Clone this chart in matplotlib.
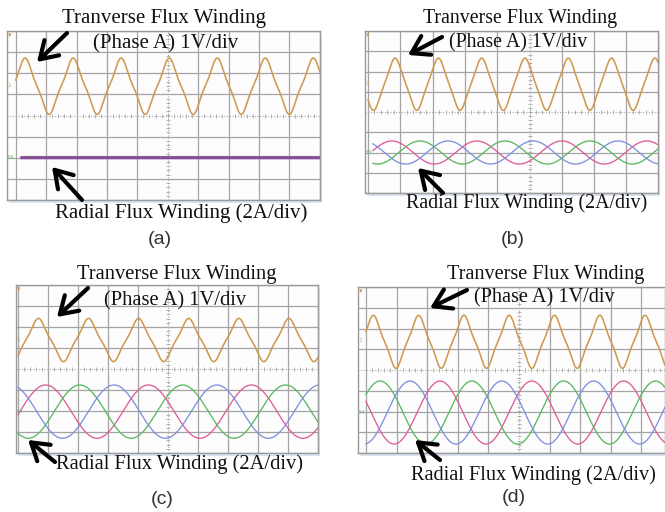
import numpy as np
import matplotlib
matplotlib.use("Agg")
import matplotlib.pyplot as plt
from matplotlib.patches import Rectangle

# ---------------- data (in divisions) -------------
panel_labels = ["(a)", "(b)", "(c)", "(d)"]
title_top = "Tranverse Flux Winding"
title_mid = "(Phase A) 1V/div"
title_bottom = "Radial Flux Winding (2A/div)"

# transverse-flux winding voltage (phase A)
volt_high = [2.72, 2.66, 2.41, 2.64]
volt_low = [0.05, 0.08, 0.35, 0.08]
volt_period = [1.58, 1.34, 1.67, 1.48]
volt_first_peak = [0.31, 0.84, 0.68, 0.24]
volt_harm3 = [0.11, 0.08, 0.11, 0.11]

# radial-flux winding three-phase currents
cur_center = [-2.0, -2.0, -2.03, -2.05]
cur_amp = [0.0, 0.57, 1.27, 1.52]
cur_period = [1.0, 2.63, 3.43, 3.00]
cur_peak_pink = [0.0, 0.74, 0.92, 2.42]
cur_peak_green = [0.0, 1.61, 2.06, 0.46]
cur_peak_blue = [0.0, 2.48, 3.20, 1.44]
cur_start = [0.2, 0.15, 0.0, 0.0]

# ---------------- layout (pixels) ----------------
W, H = 665, 512
frame_left = [7, 365, 16, 358]
grid_left = [15.7, 368, 18, 366]
div_px = [30.4, 32.3, 30.0, 30.6]
frame_right = [320, 658, 318, 665]
frame_top = [31, 31, 285, 287]
frame_bottom = [200, 193, 453, 453]

txt_top_pos = [(164, 19), (520, 19), (177, 274), (546, 274)]
txt_mid_pos = [(166, 44), (518, 43), (175, 301), (544, 298)]
txt_bot_pos = [(181, 213), (527, 203), (180, 464), (533, 475)]
lab_pos = [(160, 240), (513, 240), (162, 500), (514, 497)]
arrow1 = [((67, 33), (37, 62)), ((442, 37), (408, 55)),
          ((88, 288), (57, 317)), ((467, 290), (430, 308))]
arrow2 = [((82, 200), (52, 167)), ((443, 193), (418, 168)),
          ((55, 462), (28, 440)), ((440, 460), (415, 440))]
serif_size = [15, 14.3, 14.8, 14.6]

c_volt = "#cf9a50"
c_pink = "#de5d98"
c_blue = "#8090e0"
c_green = "#5cb860"
c_purple = "#8a4a9c"
c_grid = "#a4a4a4"

fig = plt.figure(figsize=(W / 100, H / 100), dpi=100)
fig.patch.set_facecolor("white")

for i in range(4):
    L, R, T, B = frame_left[i], frame_right[i], frame_top[i], frame_bottom[i]
    gx, d = grid_left[i], div_px[i]
    # soft shadow
    fig.add_artist(Rectangle(((L + 2) / W, 1 - (B + 3) / H), (R - L) / W, (B - T) / H,
                             transform=fig.transFigure, facecolor="#dbe5f1",
                             edgecolor="none", zorder=-1))
    ax = fig.add_axes([L / W, 1 - B / H, (R - L) / W, (B - T) / H])
    ax.set_facecolor("#fdfdfd")
    x0, x1 = (L - gx) / d, (R - gx) / d
    ax.set_xlim(x0, x1)
    ax.set_ylim(-4, 4)
    ax.set_xticks([]); ax.set_yticks([])
    for s in ax.spines.values():
        s.set_color("#9a9a9a"); s.set_linewidth(1.0)
    for k in range(0, 11):
        if k == 5:
            ax.axvline(k, color="#a8a8a8", lw=0.8, ls=(0, (1, 1.5)))
        else:
            ax.axvline(k, color=c_grid, lw=0.9)
    for k in range(-4, 5):
        if k == 0:
            ax.axhline(k, color="#a8a8a8", lw=0.8, ls=(0, (1, 1.5)))
        else:
            ax.axhline(k, color=c_grid, lw=0.9)
    tx = np.arange(0, 10.01, 0.2)
    ax.plot(tx, np.zeros_like(tx), ls="none", marker="|", ms=2.5, color="#a8a8a8", mew=0.6)
    ty = np.arange(-4, 4.01, 0.2)
    ax.plot(np.full_like(ty, 5.0), ty, ls="none", marker="_", ms=2.5, color="#a8a8a8", mew=0.6)

    # channel markers on the left edge
    ax.text(x0 + 0.02, 3.95, "\u25be", color=c_volt, fontsize=5, ha="left", va="top")
    ax.text(x0 + 0.02, 1.4, "1", color=c_volt, fontsize=4.5, ha="left", va="center",
            alpha=0.8)
    ax.text(x0 + 0.02, cur_center[i], "M", color=c_green, fontsize=4.5, ha="left",
            va="center", alpha=0.8)

    # voltage trace
    x = np.linspace(0.0, x1, 1500)
    th = 2 * np.pi * (x - volt_first_peak[i]) / volt_period[i] + np.pi / 2
    a = volt_harm3[i]
    w = (np.sin(th) - a * np.sin(3 * th)) / (1 + a)
    c = (volt_high[i] + volt_low[i]) / 2
    h = (volt_high[i] - volt_low[i]) / 2
    ax.plot(x, c + h * w, color=c_volt, lw=1.15, solid_capstyle="round")

    # currents
    xc = np.linspace(cur_start[i], x1, 1500)
    if cur_amp[i] == 0:
        ax.plot(xc, np.full_like(xc, cur_center[i] + 0.06), color=c_green, lw=0.8)
        ax.plot(xc, np.full_like(xc, cur_center[i]), color=c_purple, lw=2.2)
    else:
        for pk, col in ((cur_peak_pink[i], c_pink), (cur_peak_green[i], c_green),
                        (cur_peak_blue[i], c_blue)):
            y = cur_center[i] + cur_amp[i] * np.cos(2 * np.pi * (xc - pk) / cur_period[i])
            ax.plot(xc, y, color=col, lw=0.95)

# overlay for texts and arrows (pixel coordinates)
ov = fig.add_axes([0, 0, 1, 1], zorder=10)
ov.set_xlim(0, W); ov.set_ylim(H, 0)
ov.axis("off")
ov.patch.set_alpha(0)
for i in range(4):
    fs = serif_size[i]
    ov.text(*txt_top_pos[i], title_top, family="Liberation Serif", fontsize=fs,
            ha="center", va="center", color="#111111")
    ov.text(*txt_mid_pos[i], title_mid, family="Liberation Serif", fontsize=fs,
            ha="center", va="center", color="#111111")
    ov.text(*txt_bot_pos[i], title_bottom, family="Liberation Serif", fontsize=fs,
            ha="center", va="center", color="#111111")
    ov.text(*lab_pos[i], panel_labels[i], family="Liberation Sans", fontsize=14,
            ha="center", va="center", color="#333333")
    for tail, tip in (arrow1[i], arrow2[i]):
        ov.annotate("", xy=tip, xytext=tail,
                    arrowprops=dict(arrowstyle="->,head_length=0.6,head_width=0.38",
                                    lw=3.0, color="black", mutation_scale=20,
                                    shrinkA=0, shrinkB=0))

fig.savefig("out.png", dpi=100)
